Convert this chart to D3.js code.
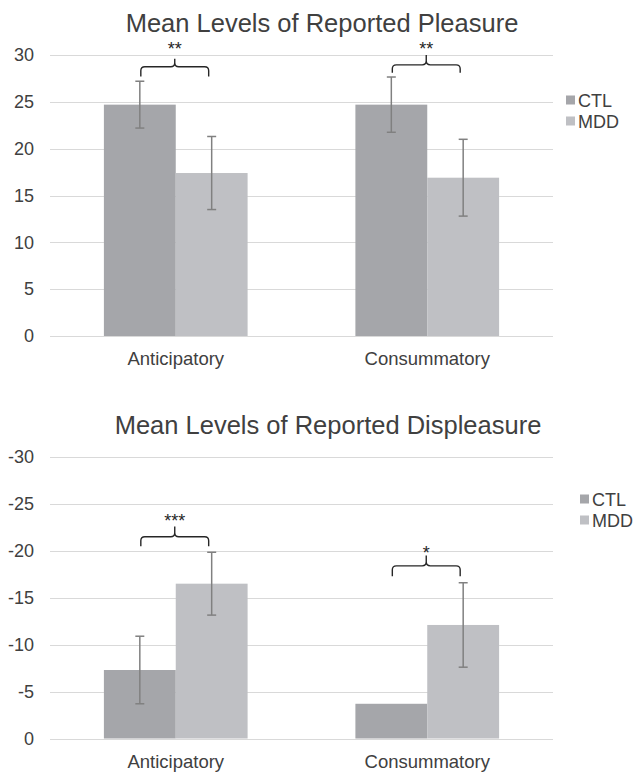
<!DOCTYPE html>
<html lang="en">
<head>
<meta charset="utf-8">
<title>Mean Levels of Reported Pleasure / Displeasure</title>
<script src="https://d3js.org/d3.v7.min.js"></script>
<style>
body { margin: 0; background: #fff; }
text { font-family: "Liberation Sans", Arial, sans-serif; fill: #404040; }
.grid line { stroke: #d9d9d9; stroke-width: 1; }
.err { stroke: #808080; stroke-width: 1.5; }
.brace { fill: none; stroke: #262626; stroke-width: 1.4; }
</style>
</head>
<body>
<div id="container"></div>
<script>
// data
var categories = ["Anticipatory", "Consummatory"];
var groups = ["CTL", "MDD"];

var pleasureCTL = [24.7, 24.7];
var pleasureCTLErr = [2.5, 2.95];
var pleasureMDD = [17.4, 16.9];
var pleasureMDDErr = [3.9, 4.1];

var displeasureCTL = [-7.3, -3.7];
var displeasureCTLErr = [3.6, null];   // no error bar drawn for this one
var displeasureMDD = [-16.5, -12.1];
var displeasureMDDErr = [3.35, 4.5];

var pleasureTicks = [0, 5, 10, 15, 20, 25, 30];
var displeasureTicks = [0, -5, -10, -15, -20, -25, -30];

var pleasureStars = ["**", "**"];
var displeasureStars = ["***", "*"];
// brace levels: [ends, bar, tip, stars]
var pleasureBrace = [[27.7, 28.75, 29.6, 31.0], [28.1, 28.95, 30.0, 31.0]];
var displeasureBrace = [[-20.5, -21.5, -22.6, -23.5], [-17.3, -18.4, -19.5, -20.1]];

var colors = { CTL: "#a5a6aa", MDD: "#bfc0c4" };

var w = 633, h = 774;
var svg = d3.select("#container").append("svg")
    .attr("width", w).attr("height", h);

var x = d3.scaleBand().domain(categories).range([50, 553]).padding(0);
var xSub = d3.scaleBand().domain(groups).range([0, x.bandwidth()])
    .paddingInner(0).paddingOuter(0.75);

function panel(cfg) {
    var g = svg.append("g");
    var y = d3.scaleLinear().domain(cfg.domain).range([cfg.bottom, cfg.top]);

    g.append("text")
        .attr("x", cfg.titleX).attr("y", cfg.top - 23)
        .attr("text-anchor", "middle")
        .style("font-size", "25.5px")
        .text(cfg.title);

    // gridlines
    g.append("g").attr("class", "grid")
        .selectAll("line").data(cfg.ticks).enter().append("line")
        .attr("x1", 50).attr("x2", 553)
        .attr("y1", function(d) { return Math.round(y(d)) + 0.5; })
        .attr("y2", function(d) { return Math.round(y(d)) + 0.5; });

    // y axis labels (plain hyphen for negatives, like the original)
    var yAxis = d3.axisLeft(y).tickValues(cfg.ticks).tickSize(0).tickPadding(0)
        .tickFormat(function(d) { return String(d); });
    var ya = g.append("g").attr("transform", "translate(34,0)").call(yAxis);
    ya.select(".domain").remove();
    ya.selectAll("text").style("font-size", "18px").attr("fill", "#404040")
        .style("font-family", null);

    var rows = [];
    categories.forEach(function(c, i) {
        rows.push({ cat: c, grp: "CTL", v: cfg.ctl[i], e: cfg.ctlErr[i] });
        rows.push({ cat: c, grp: "MDD", v: cfg.mdd[i], e: cfg.mddErr[i] });
    });

    g.selectAll("rect.bar").data(rows).enter().append("rect")
        .attr("class", "bar")
        .attr("x", function(d) { return x(d.cat) + xSub(d.grp); })
        .attr("width", xSub.bandwidth())
        .attr("y", function(d) { return Math.min(y(d.v), y(0)); })
        .attr("height", function(d) { return Math.abs(y(0) - y(d.v)); })
        .attr("fill", function(d) { return colors[d.grp]; });

    // error bars
    var eb = g.selectAll("g.eb").data(rows.filter(function(d) { return d.e != null; }))
        .enter().append("g").attr("class", "err");
    function cx(d) { return x(d.cat) + xSub(d.grp) + xSub.bandwidth() / 2; }
    eb.append("line")
        .attr("x1", cx).attr("x2", cx)
        .attr("y1", function(d) { return y(d.v - d.e); })
        .attr("y2", function(d) { return y(d.v + d.e); });
    [-1, 1].forEach(function(s) {
        eb.append("line")
            .attr("x1", function(d) { return cx(d) - 4.5; })
            .attr("x2", function(d) { return cx(d) + 4.5; })
            .attr("y1", function(d) { return y(d.v + s * d.e); })
            .attr("y2", function(d) { return y(d.v + s * d.e); });
    });

    // significance braces
    categories.forEach(function(c, i) {
        var b = cfg.brace[i];
        var x1 = x(c) + xSub("CTL") + xSub.bandwidth() / 2 + 1;
        var x2 = x(c) + xSub("MDD") + xSub.bandwidth() / 2 - 3;
        var xm = (x1 + x2) / 2;
        var ye = y(b[0]), yb = y(b[1]), yt = y(b[2]);
        var r = 4;
        var p = "M" + x1 + "," + ye +
            " L" + x1 + "," + (yb + r) +
            " Q" + x1 + "," + yb + " " + (x1 + r) + "," + yb +
            " L" + (xm - r) + "," + yb +
            " Q" + xm + "," + yb + " " + xm + "," + (yb - r) +
            " L" + xm + "," + yt +
            " M" + xm + "," + (yb - r) +
            " Q" + xm + "," + yb + " " + (xm + r) + "," + yb +
            " L" + (x2 - r) + "," + yb +
            " Q" + x2 + "," + yb + " " + x2 + "," + (yb + r) +
            " L" + x2 + "," + ye;
        g.append("path").attr("class", "brace").attr("d", p);
        g.append("text")
            .attr("x", xm).attr("y", y(b[3]) + 9)
            .attr("text-anchor", "middle")
            .style("font-size", "18px")
            .style("fill", "#262626")
            .text(cfg.stars[i]);
    });

    // x labels
    g.selectAll("text.xl").data(categories).enter().append("text")
        .attr("class", "xl")
        .attr("x", function(d) { return x(d) + x.bandwidth() / 2; })
        .attr("y", cfg.bottom + 29)
        .attr("text-anchor", "middle")
        .style("font-size", "18.5px")
        .text(function(d) { return d; });

    // legend
    var lg = g.selectAll("g.lg").data(groups).enter().append("g")
        .attr("transform", function(d, i) {
            return "translate(" + cfg.legX + "," + (cfg.legY + i * 21) + ")";
        });
    lg.append("rect").attr("x", 0).attr("y", -4.5).attr("width", 9).attr("height", 9)
        .attr("fill", function(d) { return colors[d]; });
    lg.append("text").attr("x", 12).attr("y", 6.5)
        .style("font-size", "18px")
        .text(function(d) { return d; });
}

panel({
    title: "Mean Levels of Reported Pleasure", titleX: 322,
    domain: [0, 30], top: 55, bottom: 336, ticks: pleasureTicks,
    ctl: pleasureCTL, ctlErr: pleasureCTLErr, mdd: pleasureMDD, mddErr: pleasureMDDErr,
    brace: pleasureBrace, stars: pleasureStars, legX: 566, legY: 100
});

panel({
    title: "Mean Levels of Reported Displeasure", titleX: 328,
    domain: [0, -30], top: 457, bottom: 738.5, ticks: displeasureTicks,
    ctl: displeasureCTL, ctlErr: displeasureCTLErr, mdd: displeasureMDD, mddErr: displeasureMDDErr,
    brace: displeasureBrace, stars: displeasureStars, legX: 580, legY: 499
});
</script>
</body>
</html>
